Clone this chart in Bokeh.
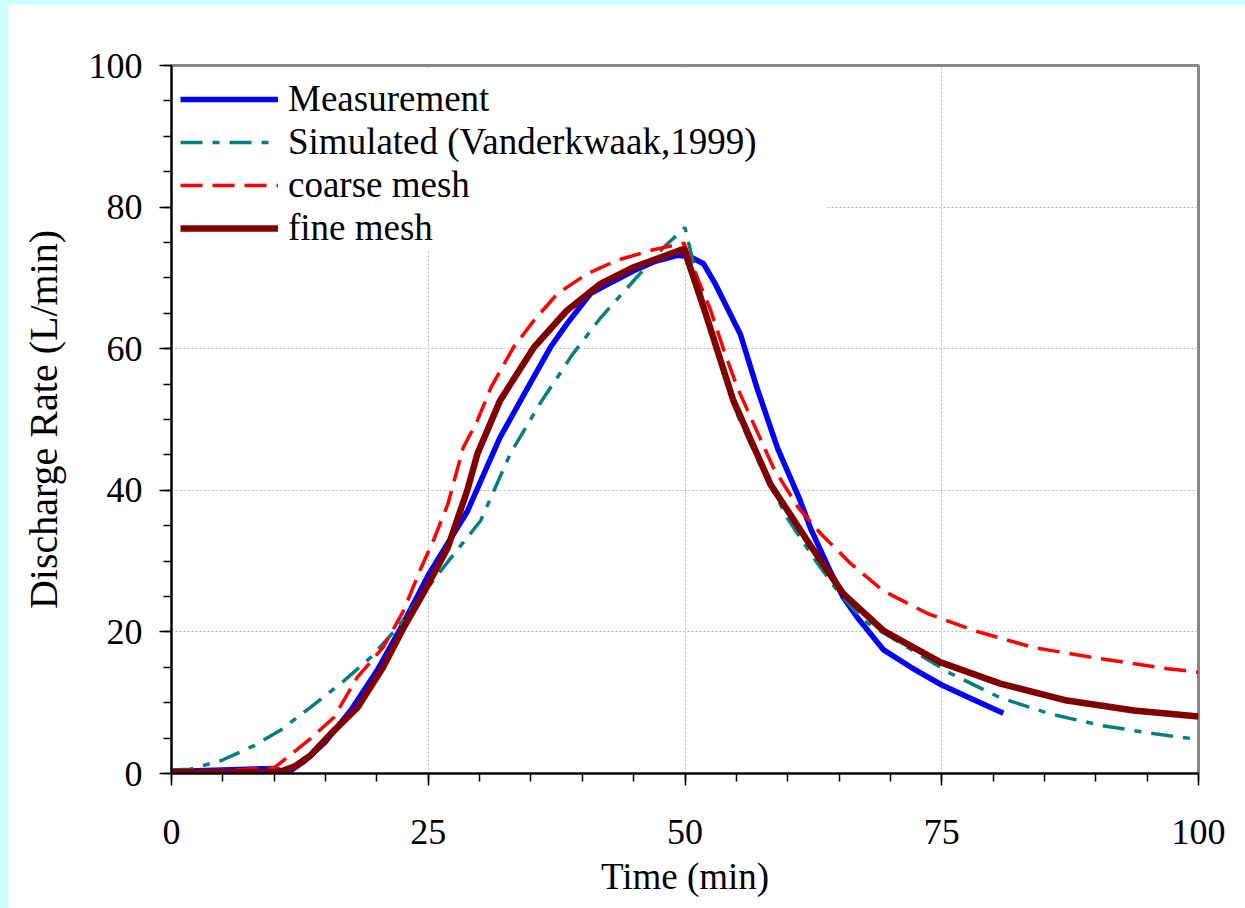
from bokeh.plotting import figure
from bokeh.models import Range1d, SingleIntervalTicker, Legend, LegendItem, Column, BoxAnnotation
from bokeh.embed import file_html
from bokeh.resources import INLINE

# ---- data ----
meas_t = [0, 10, 11.3, 13, 15, 17.5, 20, 22.5, 25, 28.8, 32, 34.5, 36.9, 38.5, 40.8, 43, 45, 47, 49.3, 50.5,
          51.8, 53, 55.4, 57, 59, 61.2, 62.2, 64, 65.4, 66.8, 69.3, 72, 75, 78, 81]
meas_v = [0.3, 0.7, 0.1, 1.8, 4.5, 9, 14.5, 21, 28, 37, 47.5, 54, 60.2, 63.5, 67.8, 69.5, 71, 72.3, 73.2, 73,
          72, 69, 62, 54.5, 46, 38.6, 34.7, 29, 24.9, 22, 17.5, 15, 12.5, 10.5, 8.5]

sim_t = [0, 1.8, 4.8, 8, 10.6, 13.5, 16.8, 19.4, 22, 24.5, 27.5, 30.1, 33, 35.9, 39.1, 41.8, 45, 47.9, 50,
         51, 53, 55, 57.5, 60, 62.5, 65, 67.5, 71, 75.9, 80.7, 85.6, 90.5, 95.3, 100]
sim_v = [0.5, 0.6, 1.8, 3.9, 6.1, 9.3, 13.1, 16.4, 20.6, 25.4, 31, 35.7, 45.2, 52.3, 59.3, 64.4, 69.6, 74.3, 77.1,
         71, 60, 51, 43, 36, 30.5, 25.5, 21.5, 18.4, 14.1, 10.7, 8.4, 6.8, 5.7, 4.8]

coarse_t = [0, 10, 11.3, 13.5, 15.8, 18.1, 20.6, 22.6, 24.2, 25.5, 26.9, 28.4, 29.8, 31.1, 33.3, 35.3, 37.6,
            40.5, 43.4, 46.7, 49.9, 51.2, 52.5, 53.8, 55.1, 56.4, 58.6, 61, 63.2, 66.1, 69.3, 73.6, 78.1, 83.9,
            90.5, 97, 100]
coarse_v = [0, 0.8, 2.3, 4.9, 7.9, 13.6, 17.8, 23, 28.7, 32.9, 38, 46, 49.9, 54.5, 60.2, 64, 67.8,
            70.6, 72.5, 73.9, 74.9, 70, 65.4, 59.7, 54.5, 50.3, 43.2, 37.6, 33.9, 29.7, 25.8, 22.6, 20.2, 17.8,
            16.2, 14.8, 14.3]

fine_t = [0, 10.5, 12, 13.5, 15.5, 18.1, 20.6, 22.6, 24.5, 26.9, 28.8, 29.8, 32, 35.3, 38.5, 41.8, 45, 49.9,
          52, 54.7, 58.3, 61.9, 65.4, 69.3, 71, 74.9, 80.7, 87.2, 93.7, 100]
fine_v = [0.2, 0.2, 1, 2.5, 5.6, 9.3, 15, 20.6, 25.4, 31.9, 40, 45.2, 52.7, 60.2, 65.4, 69.2, 71.5, 74.1,
          65, 52.7, 40.9, 32.9, 25.4, 20.2, 18.8, 15.7, 12.7, 10.3, 8.9, 8.05]

labels = ["Measurement", "Simulated (Vanderkwaak,1999)", "coarse mesh", "fine mesh"]

FONT = "Liberation Serif"

p = figure(width=1237, height=904, output_backend="svg", toolbar_location=None,
           x_range=Range1d(0, 100), y_range=Range1d(0, 100),
           min_border_left=163, min_border_right=47, min_border_top=61, min_border_bottom=135,
           margin=(4, 0, 0, 8))
p.background_fill_color = "white"
p.border_fill_color = "white"
p.outline_line_color = "#888888"
p.outline_line_width = 3

# axes
p.xaxis.ticker = SingleIntervalTicker(interval=25, num_minor_ticks=5)
p.yaxis.ticker = SingleIntervalTicker(interval=20, num_minor_ticks=4)
for ax in (p.xaxis[0], p.yaxis[0]):
    ax.axis_line_color = "black"
    ax.axis_line_width = 2
    ax.major_tick_line_color = "black"
    ax.minor_tick_line_color = "black"
    ax.major_tick_line_width = 1.5
    ax.minor_tick_line_width = 1.5
    ax.major_tick_in = 0
    ax.major_tick_out = 12
    ax.minor_tick_in = 0
    ax.minor_tick_out = 8
    ax.major_label_text_font = FONT
    ax.major_label_text_font_size = "36px"
    ax.major_label_text_color = "black"
    ax.axis_label_text_font = FONT
    ax.axis_label_text_font_style = "normal"
    ax.axis_label_text_color = "black"
p.xaxis.axis_label = "Time (min)"
p.yaxis.axis_label = "Discharge Rate (L/min)"
p.xaxis.axis_label_text_font_size = "37px"
p.yaxis.axis_label_text_font_size = "40px"
p.xaxis.major_label_standoff = 34
p.xaxis.axis_label_standoff = 9
p.yaxis.major_label_standoff = 17
p.yaxis.axis_label_standoff = 20

# grid
for g in (p.xgrid[0], p.ygrid[0]):
    g.grid_line_color = "#b8b8b8"
    g.grid_line_dash = "2 2"
    g.grid_line_width = 1

# white backing behind the legend (hides the grid there, stays under the curves)
p.add_layout(BoxAnnotation(left=0.2, right=63.8, bottom=73.9, top=99.6, fill_color="white", fill_alpha=1,
                           line_alpha=0, level="underlay"))

r_meas = p.line(meas_t, meas_v, line_color="#0000ff", line_width=5.5)
r_sim = p.line(sim_t, sim_v, line_color="#008080", line_width=3.5, line_dash="22 10 7 10")
r_coarse = p.line(coarse_t, coarse_v, line_color="#ff0000", line_width=3.5, line_dash="22 10")
r_fine = p.line(fine_t, fine_v, line_color="#800000", line_width=6.5)

legend = Legend(items=[LegendItem(label=labels[0], renderers=[r_meas]),
                       LegendItem(label=labels[1], renderers=[r_sim]),
                       LegendItem(label=labels[2], renderers=[r_coarse]),
                       LegendItem(label=labels[3], renderers=[r_fine])],
                location=(0, 515), margin=0, padding=9, spacing=0,
                glyph_width=98, glyph_height=42, label_height=42, label_standoff=10,
                label_text_font=FONT, label_text_font_size="37px", label_text_color="black",
                border_line_alpha=0, background_fill_alpha=0)
p.add_layout(legend)

layout = Column(children=[p], styles={"background-color": "#ccffff"})

open("out.html", "w").write(file_html(layout, INLINE))
